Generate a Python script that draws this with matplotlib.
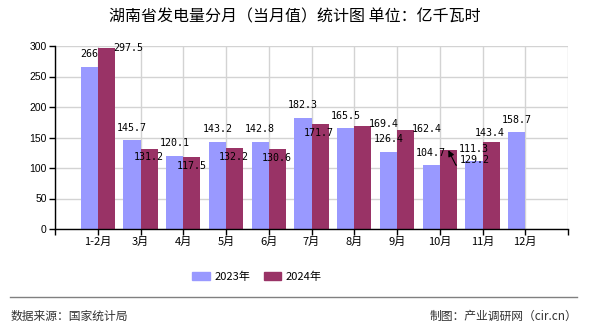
import numpy as np
import matplotlib
matplotlib.use('Agg')
import matplotlib.pyplot as plt
from matplotlib.patches import Patch
from matplotlib.lines import Line2D

plt.rcParams['font.family'] = ['Noto Sans CJK SC', 'DejaVu Sans']

months = ['1-2月', '3月', '4月', '5月', '6月', '7月', '8月', '9月', '10月', '11月', '12月']
values_2023 = [266, 145.7, 120.1, 143.2, 142.8, 182.3, 165.5, 126.4, 104.7, 111.3, 158.7]
values_2024 = [297.5, 131.2, 117.5, 132.2, 130.6, 171.7, 169.4, 162.4, 129.2, 143.4, np.nan]

# label nudges in pixels (dx, dy) for the 2024 labels
red_offsets = [(22, 0), (0, -8), (0, -9), (-1, -9), (-1, -9), (-1, -9),
               (21, 2), (21, 1), (26, -10), (-1, 9), (0, 0)]

c23 = '#9999FF'
c24 = '#993366'

fig = plt.figure(figsize=(5.9, 3.3), dpi=100)
ax = fig.add_axes([55 / 590, 1 - 229 / 330, 513 / 590, 183 / 330])

x = np.arange(len(months))
w = 0.4
ax.bar(x - w / 2, values_2023, w, color=c23, zorder=2)
ax.bar(x + w / 2, values_2024, w, color=c24, zorder=2)

ax.set_xlim(-1, 11)
ax.set_ylim(0, 300)
ax.set_yticks(range(0, 301, 50))
ax.set_yticklabels([str(v) for v in range(0, 301, 50)], fontsize=7.5, family='Liberation Sans')
ax.set_xticks(np.arange(-1, 12))
ax.set_xticklabels([''] + months + [''], fontsize=8)
ax.tick_params(axis='both', length=4, width=1, color='black', pad=2)
ax.grid(True, color='#d3d3d3', lw=1, zorder=0)
ax.set_axisbelow(True)
for s in ['top', 'right']:
    ax.spines[s].set_visible(False)
for s in ['left', 'bottom']:
    ax.spines[s].set_color('black')
    ax.spines[s].set_linewidth(1)

lab_kw = dict(textcoords='offset pixels', ha='center', va='center',
              fontsize=7.2, family='DejaVu Sans Mono', zorder=5)

for xi, v in zip(x, values_2023):
    ax.annotate(f'{v:g}', (xi - w / 2, v), xytext=(0, 12.5), **lab_kw)

for i, (xi, v) in enumerate(zip(x, values_2024)):
    if np.isnan(v):
        continue
    dx, dy = red_offsets[i]
    if i == 8:
        # this label was pushed aside, so it points back at its bar
        ax.annotate(f'{v:g}', (xi + w / 2, v), xytext=(dx, dy),
                    arrowprops=dict(arrowstyle='-|>', color='black', lw=0.8,
                                    shrinkA=0, shrinkB=0, relpos=(1, 0),
                                    mutation_scale=9,
                                    connectionstyle='angle,angleA=0,angleB=-63,rad=0'),
                    **lab_kw)
    else:
        ax.annotate(f'{v:g}', (xi + w / 2, v), xytext=(dx, dy), **lab_kw)

fig.text(295 / 590, 1 - 17 / 330, '湖南省发电量分月（当月值）统计图 单位：亿千瓦时',
         ha='center', va='center', fontsize=11.5)

handles = [Patch(color=c23, label='2023年'), Patch(color=c24, label='2024年')]
fig.legend(handles=handles, loc='center', bbox_to_anchor=(257 / 590, 1 - 277 / 330),
           ncol=2, frameon=False, fontsize=8, handlelength=1.6, handleheight=0.7,
           handletextpad=0.4, columnspacing=1.2)

fig.add_artist(Line2D([10 / 590, 577 / 590], [1 - 297 / 330] * 2, color='#808080', lw=1))
fig.text(11 / 590, 1 - 316 / 330, '数据来源：国家统计局', ha='left', va='center',
         fontsize=8.5, color='#333333')
fig.text(577 / 590, 1 - 316 / 330, '制图：产业调研网（cir.cn）', ha='right', va='center',
         fontsize=8.5, color='#333333')

fig.savefig('out.png', dpi=100)
